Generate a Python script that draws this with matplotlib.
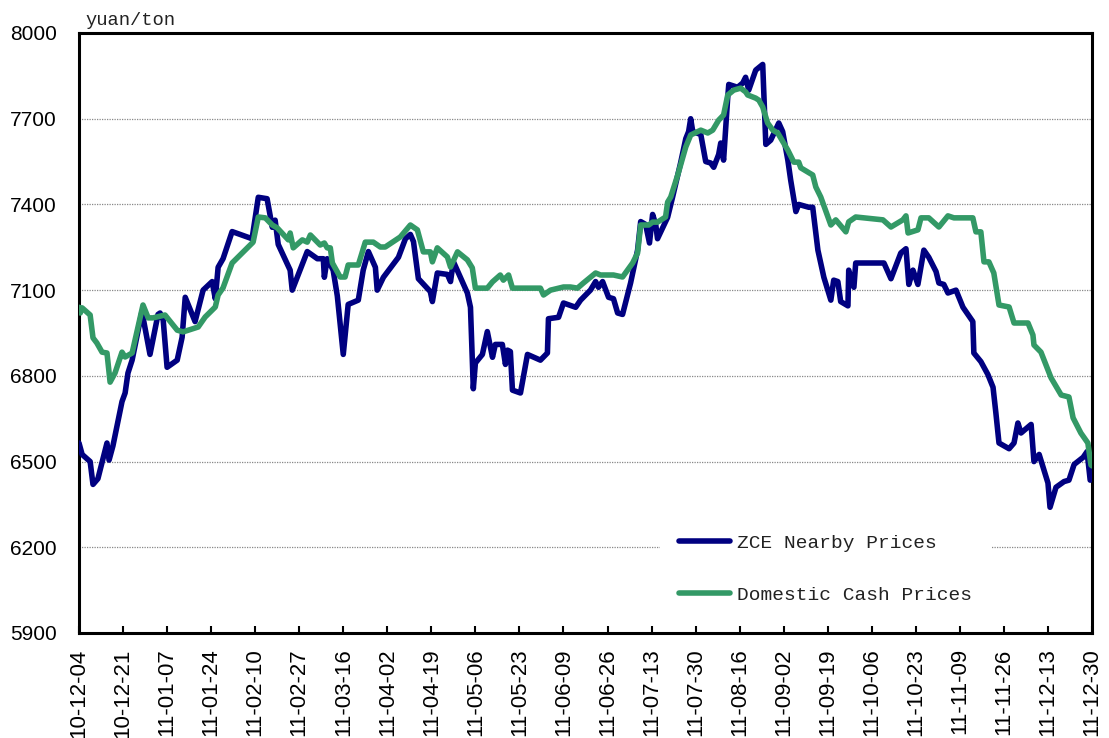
import matplotlib
matplotlib.use("Agg")
import matplotlib.pyplot as plt
import datetime as dt

# ---------------- data ----------------
start_date = "2010-12-04"
tick_labels = ["10-12-04", "10-12-21", "11-01-07", "11-01-24", "11-02-10", "11-02-27",
               "11-03-16", "11-04-02", "11-04-19", "11-05-06", "11-05-23", "11-06-09",
               "11-06-26", "11-07-13", "11-07-30", "11-08-16", "11-09-02", "11-09-19",
               "11-10-06", "11-10-23", "11-11-09", "11-11-26", "11-12-13", "11-12-30"]
y_ticks = [5900, 6200, 6500, 6800, 7100, 7400, 7700, 8000]

# days since 2010-12-04
zce_day = [0, 1.2, 4.3, 5.4, 7.3, 10.8, 11.6, 13.1, 16.6, 17.8, 18.9, 20.5, 24.3, 27.4,
           30.5, 31.3, 32.5, 34.0, 37.9, 39.8, 41.0, 44.8, 47.9, 51.4, 52.6, 53.7, 55.6,
           59.1, 66.8, 69.2, 72.6, 74.6, 75.7, 76.9, 81.5, 82.3, 88.1, 92.0, 94.3, 94.7,
           95.8, 98.1, 99.7, 102.0, 103.9, 107.8, 109.7, 111.7, 114.4, 115.1, 117.5, 123.3,
           126.0, 127.9, 129.1, 131.0, 135.6, 136.4, 138.3, 142.2, 143.4, 144.5, 149.9,
           151.1, 152.2, 153.0, 155.7, 157.6, 159.6, 160.7, 163.4, 164.6, 165.4, 166.5,
           167.3, 170.4, 173.1, 178.1, 180.8, 181.2, 185.1, 187.0, 191.7, 193.6, 197.4,
           199.4, 200.5, 202.1, 204.4, 206.3, 207.9, 209.8, 212.9, 215.6, 216.8, 218.7,
           220.2, 221.4, 222.6, 223.3, 227.2, 229.1, 232.2, 234.2, 235.3, 236.1, 236.9,
           240.0, 241.9, 243.8, 245.0, 246.9, 247.7, 248.8, 250.4, 250.8, 254.2, 256.2,
           257.3, 258.5, 261.2, 263.9, 265.1, 267.0, 270.1, 271.6, 273.6, 274.7, 276.7,
           277.8, 281.7, 283.2, 285.2, 287.5, 290.2, 291.3, 292.9, 294.0, 296.8, 297.1,
           299.1, 299.8, 310.7, 313.4, 317.2, 319.2, 320.3, 321.9, 323.8, 326.1, 328.0,
           330.8, 331.9, 333.8, 335.4, 338.5, 341.2, 345.0, 345.4, 348.1, 350.8, 352.8,
           353.9, 355.1, 359.0, 360.9, 362.4, 363.6, 367.5, 368.6, 370.6, 374.0, 374.8,
           377.1, 380.2, 382.1, 384.1, 387.6, 389.1, 390.3, 391.0]
zce_price = [6565, 6525, 6500, 6420, 6440, 6565, 6505, 6555, 6710, 6740, 6810, 6855, 7025, 6875,
             7015, 7020, 6995, 6830, 6855, 6935, 7075, 6990, 7100, 7130, 7070, 7180, 7210,
             7305, 7280, 7425, 7420, 7320, 7345, 7260, 7170, 7100, 7235, 7210, 7210, 7145,
             7210, 7170, 7080, 6875, 7050, 7065, 7170, 7235, 7180, 7100, 7145, 7215,
             7280, 7295, 7270, 7140, 7095, 7060, 7160, 7155, 7130, 7200, 7090,
             7040, 6755, 6845, 6875, 6955, 6865, 6910, 6910, 6840, 6890, 6885,
             6750, 6740, 6875, 6855, 6880, 7000, 7005, 7055, 7040, 7065, 7100,
             7130, 7110, 7130, 7075, 7070, 7020, 7015, 7125, 7240, 7340, 7330,
             7265, 7365, 7330, 7280, 7355, 7425, 7545, 7630, 7655, 7700, 7655,
             7645, 7550, 7545, 7530, 7575, 7615, 7555, 7775, 7820, 7810, 7825,
             7845, 7800, 7870, 7890, 7610, 7625, 7685, 7655, 7555, 7485, 7375,
             7400, 7390, 7390, 7240, 7145, 7065, 7135, 7130, 7060, 7045, 7170,
             7110, 7195, 7195, 7140, 7230, 7245, 7120, 7170, 7120, 7240, 7215,
             7165, 7125, 7120, 7090, 7100, 7040, 6990, 6880, 6850, 6805, 6760,
             6670, 6565, 6545, 6565, 6635, 6600, 6630, 6500, 6525, 6425, 6340,
             6410, 6430, 6435, 6490, 6515, 6535, 6435, 6440]

cash_day = [0, 0.5, 1.2, 4.3, 5.4, 6.9, 8.9, 10.8, 12.0, 13.9, 16.6, 17.8, 20.5, 24.7, 26.7,
            28.6, 33.2, 37.9, 40.2, 46.0, 48.7, 52.6, 53.7, 55.6, 59.1, 67.2, 69.2, 71.9,
            74.6, 76.5, 80.8, 81.5, 82.7, 86.2, 88.1, 89.3, 93.1, 94.7, 95.8, 97.0, 97.8,
            100.8, 102.7, 103.9, 107.8, 110.5, 113.6, 116.3, 118.2, 124.0, 127.9, 130.6,
            132.9, 135.6, 136.4, 138.3, 142.2, 143.4, 146.1, 149.9, 151.8, 153.0, 157.6,
            159.6, 162.6, 163.8, 165.8, 167.3, 178.1, 179.3, 182.0, 187.0, 189.7, 192.4,
            194.7, 199.4, 201.3, 206.3, 209.8, 213.7, 215.6, 216.8, 219.9, 221.4, 223.3,
            226.4, 227.2, 228.4, 231.1, 234.2, 236.1, 240.0, 242.7, 244.6, 246.9, 248.8,
            250.4, 252.7, 255.4, 257.3, 258.1, 261.2, 262.4, 263.9, 265.8, 267.8, 269.7,
            273.6, 275.9, 277.8, 278.6, 283.2, 284.4, 286.3, 290.2, 292.1, 296.0, 297.1,
            299.8, 310.3, 313.4, 318.0, 319.2, 320.0, 323.8, 325.0, 328.0, 331.9, 335.4,
            337.7, 345.0, 346.2, 348.1, 349.3, 351.2, 353.1, 355.1, 359.0, 360.9, 366.3,
            368.2, 368.6, 371.3, 374.0, 375.2, 379.1, 382.1, 383.7, 386.7, 389.4, 390.6, 391.0]
cash_price = [7040, 7020, 7038, 7013, 6933, 6915, 6883, 6880, 6778, 6810, 6883, 6866, 6880, 7048, 7003,
              7003, 7013, 6960, 6954, 6971, 7006, 7041, 7083, 7108, 7195, 7268, 7356, 7353,
              7328, 7318, 7276, 7300, 7248, 7276, 7268, 7293, 7258, 7265, 7248, 7248, 7195,
              7146, 7146, 7188, 7188, 7268, 7268, 7251, 7251, 7286, 7328, 7311,
              7234, 7234, 7199, 7248, 7216, 7181, 7234, 7206, 7178, 7107, 7107,
              7129, 7153, 7135, 7153, 7107, 7107, 7083, 7100, 7111, 7111, 7107,
              7125, 7160, 7153, 7153, 7146, 7195, 7230, 7328, 7328, 7338, 7338,
              7356, 7408, 7426, 7503, 7601, 7643, 7660, 7650, 7660, 7695, 7713,
              7783, 7800, 7807, 7794, 7783, 7772, 7765, 7741, 7685, 7660, 7650,
              7590, 7548, 7548, 7528, 7503, 7461, 7426, 7328, 7346, 7304, 7339,
              7356, 7346, 7321, 7346, 7360, 7300, 7311, 7353, 7353, 7321, 7360,
              7353, 7353, 7304, 7304, 7199, 7199, 7160, 7048, 7041, 6985, 6985,
              6943, 6908, 6883, 6820, 6793, 6733, 6726, 6653, 6600, 6565, 6488, 6485]

series_names = ["ZCE Nearby Prices", "Domestic Cash Prices"]
series_colors = ["#000080", "#339966"]
unit_label = "yuan/ton"

# ---------------- plot ----------------
plt.rcParams["font.family"] = ["Liberation Sans", "DejaVu Sans"]

fig = plt.figure(figsize=(11.09, 7.38), dpi=100)
ax = fig.add_axes([79 / 1109, 1 - 633 / 738, (1092 - 79) / 1109, (633 - 33) / 738])

base = dt.datetime.strptime(start_date, "%Y-%m-%d")
tick_pos = [(dt.datetime.strptime("20" + t, "%Y-%m-%d") - base).days for t in tick_labels]

l1, = ax.plot(zce_day, zce_price, color=series_colors[0], lw=4.0,
              solid_joinstyle="round", solid_capstyle="round", label=series_names[0], zorder=3)
l2, = ax.plot(cash_day, cash_price, color=series_colors[1], lw=4.0,
              solid_joinstyle="round", solid_capstyle="round", label=series_names[1], zorder=4)

ax.set_xlim(tick_pos[0], tick_pos[-1])
ax.set_ylim(y_ticks[0], y_ticks[-1])
ax.set_xticks(tick_pos)
ax.set_xticklabels(tick_labels, rotation=90, fontsize=16)
ax.set_yticks(y_ticks)
ax.set_yticklabels([str(v) for v in y_ticks], fontsize=15)

ax.tick_params(axis="x", direction="in", length=5, width=1.5, pad=11, color="black")
ax.tick_params(axis="y", length=0, pad=16)

ax.yaxis.grid(True, linestyle=(0, (1, 1)), color="#888888", lw=0.9, zorder=1)
ax.set_axisbelow(True)

for s in ax.spines.values():
    s.set_linewidth(2.2)
    s.set_color("black")

fig.text(85 / 1109, 1 - 25 / 738, unit_label, fontsize=13.5,
         family=["Liberation Mono", "DejaVu Sans Mono"], color="#222222")

leg = ax.legend(handles=[l1, l2], loc="upper left",
                bbox_to_anchor=(660 / 1109, 1 - 515 / 738), bbox_transform=fig.transFigure,
                borderaxespad=0, frameon=True, fancybox=False, framealpha=1,
                edgecolor="none", facecolor="white", handlelength=2.6,
                handletextpad=0.35, labelspacing=1.75, borderpad=1.0,
                prop={"family": ["Liberation Mono", "DejaVu Sans Mono"], "size": 14})
for t in leg.get_texts():
    t.set_color("#222222")

fig.savefig("out.png", dpi=100)
